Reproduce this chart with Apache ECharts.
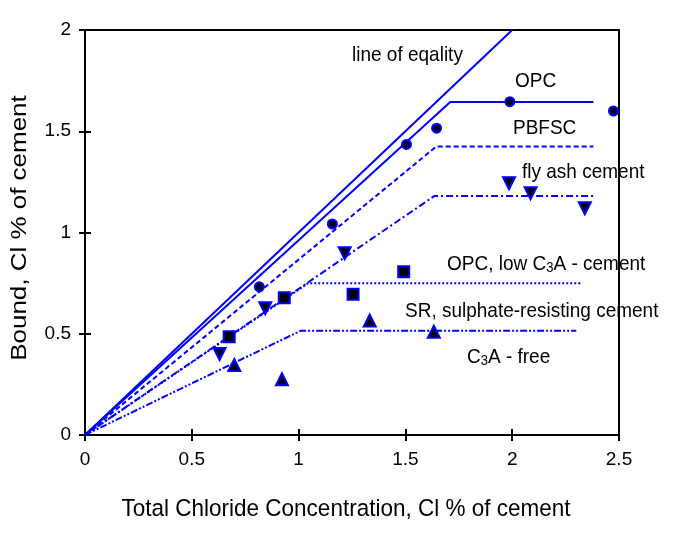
<!DOCTYPE html>
<html>
<head>
<meta charset="utf-8">
<script src="https://cdn.jsdelivr.net/npm/echarts@6/dist/echarts.min.js"></script>
<style>html,body{margin:0;padding:0;background:#fff}#c{width:678px;height:536px}</style>
</head>
<body>
<div id="c"></div>
<script>
// ---- data ----
const xTicks = [0, 0.5, 1, 1.5, 2, 2.5];
const yTicks = [0, 0.5, 1, 1.5, 2];
const equalityLine = [[0, 0], [2.0, 2.0]];
const opcFit = [[0, 0], [1.71, 1.645], [2.38, 1.645]];
const pbfscFit = [[0, 0], [1.645, 1.425], [2.38, 1.425]];
const flyAshFit = [[0, 0], [1.635, 1.18], [2.39, 1.18]];
const lowC3AFit = [[0, 0], [1.045, 0.75], [2.32, 0.75]];
const c3aFreeFit = [[0, 0], [1.01, 0.515], [2.30, 0.515]];
const opcPts = [[0.816, 0.732], [1.158, 1.042], [1.505, 1.435], [1.646, 1.515], [1.989, 1.646], [2.474, 1.60]];
const flyAshPts = [[0.63, 0.40], [0.844, 0.626], [1.216, 0.897], [1.985, 1.243], [2.086, 1.194], [2.34, 1.12]];
const lowC3APts = [[0.675, 0.485], [0.933, 0.678], [1.255, 0.695], [1.492, 0.806]];
const srPts = [[0.699, 0.346], [0.922, 0.275], [1.333, 0.565], [1.633, 0.51]];
const xTitle = 'Total Chloride Concentration, Cl % of cement';
const yTitle = 'Bound, Cl % of cement';

// ---- chart ----
const FONT = '"Liberation Sans", Arial, sans-serif';
const BLUE = '#0000ff';
const chart = echarts.init(document.getElementById('c'), null, {renderer: 'canvas'});

function axisBase(ticks) {
  return {
    type: 'value', min: ticks[0], max: ticks[ticks.length - 1],
    interval: ticks[1] - ticks[0], splitLine: {show: false}
  };
}
const xMain = Object.assign(axisBase(xTicks), {
  position: 'bottom',
  axisLine: {show: true, onZero: false, lineStyle: {color: '#000', width: 2}},
  axisTick: {show: true, inside: false, length: 6, lineStyle: {color: '#000', width: 2}},
  axisLabel: {show: true, color: '#000', fontSize: 19, fontFamily: FONT, margin: 15}
});
const xInner = Object.assign(axisBase(xTicks), {
  position: 'bottom', offset: 0,
  axisLine: {show: true, onZero: false, lineStyle: {color: 'rgba(0,0,0,0)', width: 1}},
  axisTick: {show: true, inside: true, length: 6, lineStyle: {color: '#000', width: 2}},
  axisLabel: {show: false}
});
const yMain = Object.assign(axisBase(yTicks), {
  position: 'left',
  axisLine: {show: true, onZero: false, lineStyle: {color: '#000', width: 2}},
  axisTick: {show: true, inside: false, length: 6, lineStyle: {color: '#000', width: 2}},
  axisLabel: {show: true, color: '#000', fontSize: 19, fontFamily: FONT, margin: 14}
});
const yInner = Object.assign(axisBase(yTicks), {
  position: 'left', offset: 0,
  axisLine: {show: true, onZero: false, lineStyle: {color: 'rgba(0,0,0,0)', width: 1}},
  axisTick: {show: true, inside: true, length: 6, lineStyle: {color: '#000', width: 2}},
  axisLabel: {show: false}
});

function fitLine(data, type) {
  return {
    type: 'line', data: data, symbol: 'none', silent: true, clip: true,
    lineStyle: {color: BLUE, width: 2, type: type}, z: 3
  };
}
function pts(data, symbol, size, fill, rotate) {
  return {
    type: 'scatter', data: data, symbol: symbol, symbolSize: size,
    symbolRotate: rotate || 0,
    itemStyle: {color: fill, borderColor: BLUE, borderWidth: 2, opacity: 1}, z: 5
  };
}

function label(text, left, cy) {
  return {
    type: 'text', x: left, y: cy, scaleY: 1.07, z: 10,
    style: {text: text, font: '19px ' + FONT, fill: '#000',
      textAlign: 'left', align: 'left', textVerticalAlign: 'middle', verticalAlign: 'middle',
      rich: {sub: {fontSize: 13, fontFamily: FONT, fill: '#000', verticalAlign: 'bottom', padding: [8, 0, 0, 0]}}}
  };
}

chart.setOption({
  animation: false,
  backgroundColor: '#fff',
  grid: {left: 85, right: 59, top: 30, bottom: 101, show: true, borderColor: '#000', borderWidth: 2, backgroundColor: 'transparent'},
  xAxis: [xMain, xInner],
  yAxis: [yMain, yInner],
  series: [
    fitLine(equalityLine, 'solid'),
    fitLine(opcFit, 'solid'),
    fitLine(pbfscFit, [5, 3]),
    fitLine(flyAshFit, [7, 3, 2, 3]),
    fitLine(lowC3AFit, [2, 2]),
    fitLine(c3aFreeFit, [7, 2, 2, 2, 2, 2]),
    pts(opcPts, 'circle', 9, '#000022'),
    pts(flyAshPts, 'triangle', 12, '#000', 180),
    pts(lowC3APts, 'rect', 11, '#000'),
    pts(srPts, 'triangle', 12, '#000')
  ],
  graphic: [
    label('line of eqality', 352, 55),
    label('OPC', 515, 81),
    label('PBFSC', 513, 128),
    label('fly ash cement', 522, 172),
    label('OPC, low C{sub|3}A - cement', 447, 264),
    label('SR, sulphate-resisting cement', 405, 311),
    label('C{sub|3}A - free', 467, 357),
    {
      type: 'text', x: 346, y: 509, scaleY: 1.1, z: 10,
      style: {text: xTitle, font: '22.5px ' + FONT, fill: '#000',
        textAlign: 'center', align: 'center', textVerticalAlign: 'middle', verticalAlign: 'middle'}
    },
    {
      type: 'text', x: 20, y: 228, rotation: Math.PI / 2, scaleX: 1.18, z: 10,
      style: {text: yTitle, font: '22px ' + FONT, fill: '#000',
        textAlign: 'center', align: 'center', textVerticalAlign: 'middle', verticalAlign: 'middle'}
    }
  ]
});
</script>
</body>
</html>
